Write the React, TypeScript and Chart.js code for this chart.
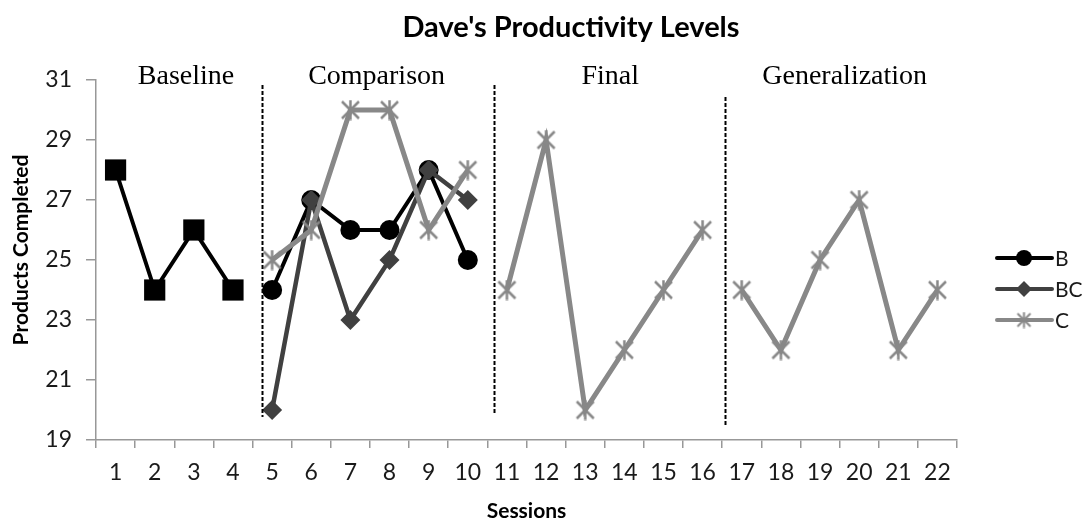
import { useEffect, useRef } from 'react';
import { Chart, registerables } from 'chart.js';

Chart.register(...registerables);

// ---------- data ----------
const sessions = ['1', '2', '3', '4', '5', '6', '7', '8', '9', '10', '11', '12', '13', '14', '15', '16', '17', '18', '19', '20', '21', '22'];
const baselineValues = [28, 24, 26, 24]; // sessions 1-4
const bValues = [24, 27, 26, 26, 28, 25]; // sessions 5-10
const bcValues = [20, 27, 23, 25, 28, 27]; // sessions 5-10
const cComparisonValues = [25, 26, 30, 30, 26, 28]; // sessions 5-10
const cFinalValues = [24, 29, 20, 22, 24, 26]; // sessions 11-16
const cGeneralizationValues = [24, 22, 25, 27, 22, 24]; // sessions 17-22
const yTickValues = [19, 21, 23, 25, 27, 29, 31];
const phaseNames = ['Baseline', 'Comparison', 'Final', 'Generalization'];
const legendNames = ['B', 'BC', 'C'];
const chartTitle = "Dave's Productivity Levels";
const xTitle = 'Sessions';
const yTitle = 'Products Completed';

// ---------- layout (not data) ----------
const W = 1089;
const H = 527;
const phaseLabelX = [1.8, 6.67, 12.64, 18.63]; // category-index units
const phaseLabelY = 30.88; // value units (text baseline)
const dividers = [
  { x: 3.75, y0: 30.83, y1: 19.77 },
  { x: 9.67, y0: 30.83, y1: 19.83 },
  { x: 15.56, y0: 30.43, y1: 19.43 },
];
const legendRowsY = [258, 289, 320];

const BLACK = '#000000';
const DARK = '#404040';
const GRAY = '#888888';
const AXIS = '#989898';

function place(startSession: number, values: number[]) {
  const out: (number | null)[] = sessions.map(() => null);
  values.forEach((v, i) => {
    out[startSession - 1 + i] = v;
  });
  return out;
}

function makeStar(size: number, color: string, lw: number) {
  const c = document.createElement('canvas');
  c.width = size;
  c.height = size;
  const g = c.getContext('2d')!;
  g.strokeStyle = color;
  g.lineWidth = lw;
  g.lineCap = 'butt';
  const m = 2;
  g.beginPath();
  g.moveTo(m, m);
  g.lineTo(size - m, size - m);
  g.moveTo(size - m, m);
  g.lineTo(m, size - m);
  g.moveTo(size / 2, 0.5);
  g.lineTo(size / 2, size - 0.5);
  g.stroke();
  return c;
}

export default function App() {
  const ref = useRef<HTMLCanvasElement | null>(null);

  useEffect(() => {
    if (!ref.current) return;
    const star = makeStar(21, GRAY, 2.5);
    const starSmall = makeStar(17, GRAY, 2);

    const overlay = {
      id: 'overlay',
      afterDraw(chart: any) {
        const ctx = chart.ctx as CanvasRenderingContext2D;
        const xs = chart.scales.x;
        const ys = chart.scales.y;
        ctx.save();

        // title
        ctx.fillStyle = '#000';
        ctx.font = 'bold 29px Lato';
        ctx.textAlign = 'center';
        ctx.textBaseline = 'alphabetic';
        ctx.fillText(chartTitle, 571, 37);

        // y axis title
        ctx.save();
        ctx.translate(21, 250);
        ctx.rotate(-Math.PI / 2);
        ctx.font = 'bold 21px Lato';
        ctx.textBaseline = 'middle';
        ctx.fillText(yTitle, 0, 0);
        ctx.restore();

        // phase labels
        ctx.font = '28px "Liberation Serif"';
        ctx.textAlign = 'center';
        ctx.textBaseline = 'alphabetic';
        phaseNames.forEach((name, i) => {
          ctx.fillText(name, xs.getPixelForValue(phaseLabelX[i]), ys.getPixelForValue(phaseLabelY));
        });

        // dividers
        ctx.strokeStyle = '#000';
        ctx.lineWidth = 2;
        ctx.setLineDash([4, 2]);
        dividers.forEach((d) => {
          const px = Math.round(xs.getPixelForValue(d.x)) + 0.5;
          ctx.beginPath();
          ctx.moveTo(px, ys.getPixelForValue(d.y0));
          ctx.lineTo(px, ys.getPixelForValue(d.y1));
          ctx.stroke();
        });
        ctx.setLineDash([]);

        // legend
        const colors = [BLACK, DARK, GRAY];
        const lx0 = 997;
        const lx1 = 1052;
        const mx = 1024;
        legendNames.forEach((name, i) => {
          const y = legendRowsY[i];
          ctx.strokeStyle = colors[i];
          ctx.fillStyle = colors[i];
          ctx.lineWidth = 4;
          ctx.lineCap = 'round';
          ctx.beginPath();
          ctx.moveTo(lx0, y);
          ctx.lineTo(lx1, y);
          ctx.stroke();
          if (i === 0) {
            ctx.beginPath();
            ctx.arc(mx, y, 8, 0, Math.PI * 2);
            ctx.fill();
          } else if (i === 1) {
            ctx.beginPath();
            ctx.moveTo(mx, y - 8);
            ctx.lineTo(mx + 8, y);
            ctx.lineTo(mx, y + 8);
            ctx.lineTo(mx - 8, y);
            ctx.closePath();
            ctx.fill();
          } else {
            ctx.drawImage(starSmall, mx - 8.5, y - 8.5);
          }
          ctx.fillStyle = '#1a1a1a';
          ctx.font = '21px Lato';
          ctx.textAlign = 'left';
          ctx.textBaseline = 'middle';
          ctx.fillText(name, 1055, y + 1);
        });

        ctx.restore();
      },
    };

    const cStyle = {
      borderColor: GRAY,
      backgroundColor: GRAY,
      borderWidth: 5,
      pointStyle: star,
      pointRadius: 10,
      order: 0,
    };

    const chart = new Chart(ref.current, {
      type: 'line',
      data: {
        labels: sessions,
        datasets: [
          {
            label: 'Baseline',
            data: place(1, baselineValues),
            borderColor: BLACK,
            backgroundColor: BLACK,
            borderWidth: 4,
            pointStyle: 'rect',
            pointRadius: 15,
            pointBorderWidth: 0,
            order: 3,
          },
          {
            label: legendNames[0],
            data: place(5, bValues),
            borderColor: BLACK,
            backgroundColor: BLACK,
            borderWidth: 4,
            pointStyle: 'circle',
            pointRadius: 10,
            pointBorderWidth: 0,
            order: 2,
          },
          {
            label: legendNames[1],
            data: place(5, bcValues),
            borderColor: DARK,
            backgroundColor: DARK,
            borderWidth: 4.5,
            pointStyle: 'rectRot',
            pointRadius: 10,
            pointBorderWidth: 0,
            order: 1,
          },
          { label: legendNames[2], data: place(5, cComparisonValues), ...cStyle },
          { label: legendNames[2] + ' final', data: place(11, cFinalValues), ...cStyle },
          { label: legendNames[2] + ' gen', data: place(17, cGeneralizationValues), ...cStyle },
        ] as any,
      },
      options: {
        responsive: false,
        animation: false,
        spanGaps: false,
        layout: { padding: { top: 80, right: 132, bottom: 0, left: 0 } },
        plugins: {
          legend: { display: false },
          tooltip: { enabled: false },
          title: { display: false },
        },
        elements: { line: { tension: 0 } },
        scales: {
          x: {
            type: 'category',
            offset: true,
            grid: {
              display: true,
              drawOnChartArea: false,
              drawTicks: true,
              tickLength: 8,
              color: AXIS,
              lineWidth: 1.5,
              offset: true,
            },
            border: { display: true, color: AXIS, width: 1.5 },
            ticks: {
              font: { family: 'Lato', size: 23 },
              color: '#1a1a1a',
              padding: 11,
              maxRotation: 0,
              autoSkip: false,
            },
            title: {
              display: true,
              text: xTitle,
              font: { family: 'Lato', size: 21, weight: 'bold' },
              color: '#000',
              padding: { top: 4, bottom: 3 },
            },
            afterFit: (s: any) => {
              s.height = 87;
            },
          },
          y: {
            min: 19,
            max: 31,
            afterBuildTicks: (s: any) => {
              s.ticks = yTickValues.map((v) => ({ value: v }));
            },
            grid: {
              display: true,
              drawOnChartArea: false,
              drawTicks: true,
              tickLength: 10,
              color: AXIS,
              lineWidth: 1.5,
            },
            border: { display: true, color: AXIS, width: 1.5 },
            ticks: {
              font: { family: 'Lato', size: 23 },
              color: '#1a1a1a',
              padding: 14,
            },
            afterFit: (s: any) => {
              s.width = 96;
            },
          },
        },
      },
      plugins: [overlay],
    });

    return () => chart.destroy();
  }, []);

  return (
    <div style={{ position: 'fixed', left: 0, top: 0, width: W, height: H, background: '#fff' }}>
      <canvas ref={ref} width={W} height={H} style={{ display: 'block', width: W, height: H }} />
    </div>
  );
}
